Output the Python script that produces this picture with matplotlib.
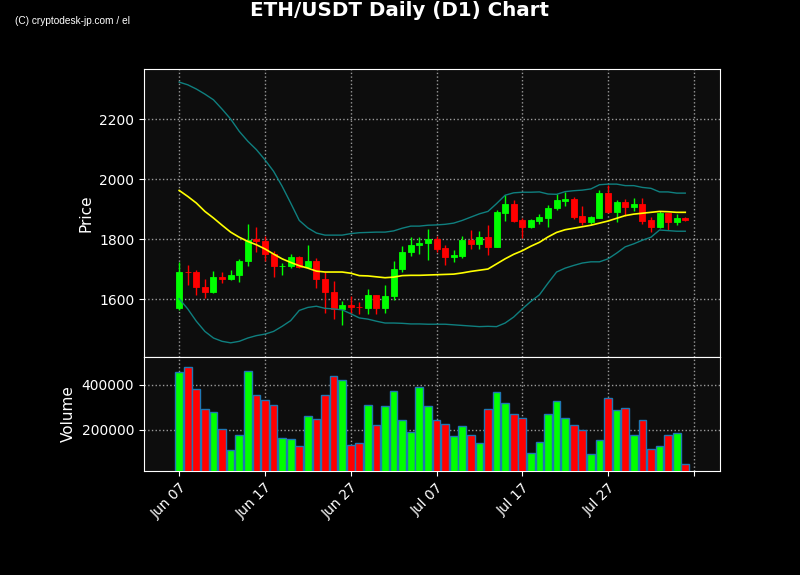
import numpy as np
import pandas as pd
import matplotlib
matplotlib.use("Agg")
import matplotlib.pyplot as plt
from matplotlib.ticker import FuncFormatter, MultipleLocator

# Daily candles
dates = pd.date_range("2023-06-07", periods=60, freq="D")

opens = [1569, 1690, 1691, 1641, 1622, 1674, 1666, 1679, 1726, 1800,
         1794, 1750, 1709, 1709, 1741, 1706, 1728, 1668, 1624, 1566,
         1581, 1575, 1571, 1614, 1571, 1609, 1699, 1756, 1779, 1786,
         1800, 1770, 1741, 1744, 1797, 1783, 1807, 1774, 1888, 1917,
         1863, 1841, 1861, 1871, 1902, 1928, 1933, 1877, 1858, 1871,
         1953, 1890, 1922, 1907, 1916, 1862, 1841, 1888, 1858, 1869]
highs = [1724, 1713, 1698, 1667, 1693, 1690, 1697, 1734, 1850, 1840,
         1810, 1759, 1720, 1750, 1745, 1780, 1737, 1690, 1660, 1593,
         1610, 1589, 1634, 1614, 1647, 1727, 1776, 1807, 1807, 1832,
         1811, 1781, 1762, 1811, 1829, 1826, 1846, 1898, 1948, 1929,
         1869, 1867, 1882, 1913, 1950, 1956, 1939, 1909, 1877, 1964,
         1980, 1929, 1934, 1936, 1936, 1874, 1894, 1888, 1882, 1873]
lows = [1562, 1647, 1613, 1604, 1620, 1653, 1663, 1658, 1711, 1758,
        1728, 1673, 1680, 1702, 1703, 1703, 1637, 1553, 1534, 1513,
        1550, 1550, 1551, 1550, 1553, 1598, 1690, 1743, 1751, 1730,
        1756, 1713, 1722, 1736, 1767, 1767, 1747, 1772, 1861, 1856,
        1802, 1836, 1849, 1841, 1897, 1910, 1868, 1847, 1849, 1870,
        1886, 1857, 1877, 1893, 1849, 1823, 1838, 1830, 1847, 1860]
closes = [1691, 1689, 1639, 1622, 1674, 1666, 1681, 1728, 1798, 1793,
          1750, 1709, 1711, 1740, 1706, 1728, 1666, 1622, 1567, 1581,
          1572, 1574, 1614, 1571, 1611, 1701, 1758, 1781, 1788, 1800,
          1768, 1741, 1748, 1797, 1783, 1807, 1774, 1890, 1917, 1860,
          1841, 1863, 1873, 1903, 1930, 1933, 1873, 1858, 1873, 1953,
          1890, 1922, 1907, 1916, 1861, 1841, 1888, 1858, 1869, 1863]
volumes = [455900, 477900, 380900, 292600, 279400, 204400, 107400, 178000, 460300, 354400,
           332400, 310300, 164700, 160300, 125000, 261800, 248500, 354400, 438200, 420600,
           133800, 142600, 310300, 222100, 305900, 372100, 244100, 191200, 389700, 305900,
           244100, 226500, 173500, 217600, 177900, 142600, 292600, 367600, 319100, 270600,
           252900, 94100, 147100, 270600, 327900, 252900, 222100, 200000, 89700, 155900,
           341200, 288200, 297100, 177900, 244100, 111800, 125000, 177900, 186800, 45600]

# Bollinger bands (20-day)
bb_mid = [1962, 1942, 1920, 1892, 1870, 1846, 1823, 1806, 1792, 1781,
          1767, 1750, 1734, 1722, 1711, 1703, 1693, 1690, 1690, 1690,
          1686, 1678, 1677, 1674, 1671, 1673, 1678, 1679, 1679, 1680,
          1681, 1682, 1683, 1687, 1692, 1696, 1700, 1717, 1734, 1749,
          1761, 1776, 1789, 1807, 1822, 1831, 1836, 1841, 1846, 1853,
          1860, 1869, 1878, 1883, 1886, 1889, 1892, 1891, 1889, 1889]
bb_upper = [2323, 2314, 2300, 2283, 2264, 2233, 2200, 2159, 2126, 2098,
            2064, 2026, 1976, 1920, 1862, 1837, 1820, 1813, 1813, 1813,
            1818, 1821, 1822, 1823, 1823, 1827, 1836, 1843, 1843, 1846,
            1847, 1849, 1853, 1862, 1873, 1884, 1892, 1918, 1946, 1954,
            1956, 1956, 1957, 1950, 1949, 1958, 1961, 1963, 1967, 1981,
            1983, 1983, 1978, 1978, 1972, 1969, 1957, 1957, 1953, 1953]
bb_lower = [1601, 1567, 1526, 1492, 1470, 1459, 1454, 1459, 1470, 1478,
            1483, 1492, 1509, 1528, 1562, 1572, 1576, 1569, 1567, 1564,
            1551, 1537, 1533, 1526, 1520, 1520, 1519, 1517, 1517, 1516,
            1516, 1516, 1514, 1512, 1510, 1508, 1509, 1508, 1520, 1540,
            1567, 1592, 1614, 1653, 1690, 1703, 1712, 1720, 1724, 1724,
            1734, 1753, 1774, 1784, 1796, 1806, 1830, 1828, 1826, 1826]

UP = "#00ff00"
DOWN = "#ff0000"

o = np.array(opens)
c = np.array(closes)
x = np.arange(len(dates))
colors = [UP if cc >= oo else DOWN for oo, cc in zip(o, c)]

fig = plt.figure(figsize=(8, 5.75), dpi=100, facecolor="black")
ax = fig.add_axes([0.18, 0.3791, 0.72, 0.5009])
axv = fig.add_axes([0.18, 0.1809, 0.72, 0.1983], sharex=ax)

for a in (ax, axv):
    a.set_facecolor("#0d0d0d")
    for s in a.spines.values():
        s.set_color("white")
    a.tick_params(colors="white", labelsize=10)
    a.grid(True, color="#9a9a9a", linestyle=":", linewidth=1)
    a.set_axisbelow(True)

# candles
ax.vlines(x, lows, highs, colors=colors, linewidth=1, zorder=2)
ax.bar(x, np.abs(c - o), bottom=np.minimum(o, c), width=0.7,
       color=colors, edgecolor=colors, linewidth=0.6, zorder=3)

# bollinger bands
ax.plot(x, bb_upper, color="#0f7f7f", linewidth=1, zorder=4)
ax.plot(x, bb_lower, color="#0f7f7f", linewidth=1, zorder=4)
ax.plot(x, bb_mid, color="#ffff00", linewidth=1.2, zorder=4)

ax.set_ylim(1406.7, 2366.7)
ax.yaxis.set_major_locator(MultipleLocator(200))
ax.set_ylabel("Price", color="white", fontsize=11)
ax.tick_params(axis="x", labelbottom=False)

# volume
axv.bar(x, volumes, width=0.9, color=colors, edgecolor="#1f77b4", linewidth=1, zorder=3)
axv.set_ylim(16000, 523500)
axv.set_yticks([200000, 400000])
axv.ticklabel_format(axis="y", style="plain")
axv.set_ylabel("Volume", color="white", fontsize=11)

def date_fmt(val, pos):
    i = int(round(val))
    if 0 <= i < len(dates):
        return dates[i].strftime("%b %d")
    return ""

axv.xaxis.set_major_locator(MultipleLocator(10))
axv.xaxis.set_major_formatter(FuncFormatter(date_fmt))
axv.set_xlim(-4.1, 63.05)
plt.setp(axv.get_xticklabels(), rotation=45, ha="right", rotation_mode="anchor")

fig.text(0.5, 0.981, "ETH/USDT Daily (D1) Chart", color="white",
         fontsize=14.3, fontweight="bold", ha="center", va="center")
fig.text(0.019, 0.963, "(C) cryptodesk-jp.com / el", color="white",
         fontsize=7.3, ha="left", va="center", family="Liberation Sans")

fig.savefig("out.png", dpi=100, facecolor="black")
